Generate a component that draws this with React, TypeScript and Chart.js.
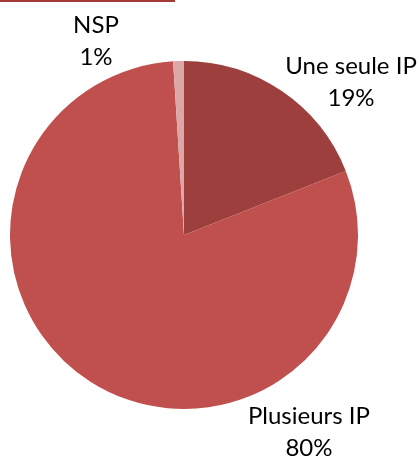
import React, { useEffect, useRef } from "react";
import { Chart, registerables } from "chart.js";

Chart.register(...registerables);

const categories = ["Une seule IP", "Plusieurs IP", "NSP"];
const values = [19, 80, 1];
const percentLabels = ["19%", "80%", "1%"];
const colors = ["#9d3f3d", "#c0504d", "#dba8a7"];

// label placement relative to pie center, in units of radius (style only)
const labelOffsets = [
  { dx: 0.96, dy: -0.885 },
  { dx: 0.718, dy: 1.132 },
  { dx: -0.506, dy: -1.118 },
];

const labelPlugin = {
  id: "pieLabels",
  afterDatasetsDraw(chart: any) {
    const ctx = chart.ctx;
    const meta = chart.getDatasetMeta(0);
    const arc0 = meta.data[0];
    if (!arc0) return;
    const cx = arc0.x;
    const cy = arc0.y;
    const r = arc0.outerRadius;
    ctx.save();
    ctx.fillStyle = "#000000";
    ctx.font = "24px Lato";
    ctx.textAlign = "center";
    ctx.textBaseline = "alphabetic";
    categories.forEach((cat, i) => {
      const o = labelOffsets[i];
      const x = cx + o.dx * r;
      const y = cy + o.dy * r;
      ctx.fillText(cat, x, y - 16 + 8.5);
      ctx.fillText(percentLabels[i], x, y + 16 + 8.5);
    });
    ctx.restore();
  },
};

export default function App() {
  const ref = useRef<HTMLCanvasElement | null>(null);
  useEffect(() => {
    if (!ref.current) return;
    const chart = new Chart(ref.current, {
      type: "pie",
      data: {
        labels: categories,
        datasets: [
          {
            data: values,
            backgroundColor: colors,
            borderWidth: 0,
          },
        ],
      },
      options: {
        responsive: false,
        animation: false,
        layout: { padding: { left: 10, right: 61, top: 61, bottom: 49 } },
        plugins: {
          legend: { display: false },
          tooltip: { enabled: false },
        },
      },
      plugins: [labelPlugin],
    });
    return () => chart.destroy();
  }, []);
  return (
    <div style={{ position: "fixed", left: 0, top: 0, width: 419, height: 458, background: "#ffffff" }}>
      <canvas ref={ref} width={419} height={458} style={{ display: "block" }} />
      <div style={{ position: "absolute", left: 0, top: 0, width: 175, height: 2, background: "#a33a35" }} />
    </div>
  );
}
